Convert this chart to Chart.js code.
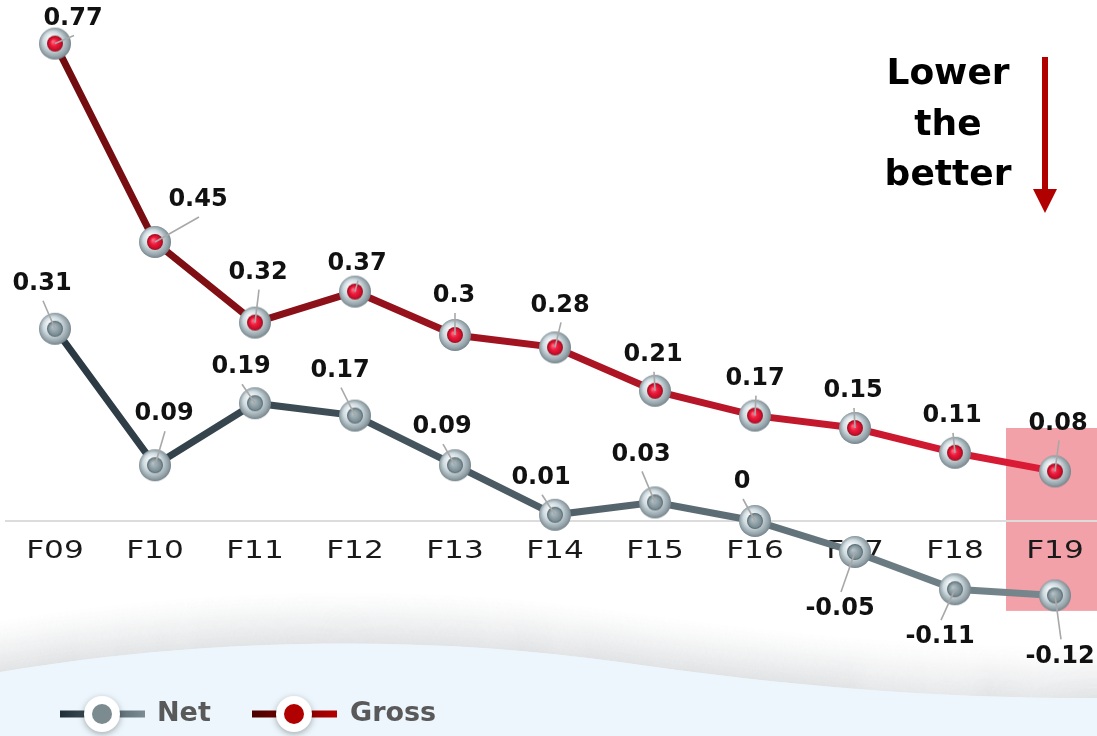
<!DOCTYPE html>
<html>
<head>
<meta charset="utf-8">
<script src="https://cdn.jsdelivr.net/npm/chart.js@4.4.1/dist/chart.umd.min.js"></script>
<style>
  html, body { margin: 0; padding: 0; overflow: hidden; background: #fff; }
  #wrap { width: 1110px; height: 736px; }
</style>
</head>
<body>
<div id="wrap"><canvas id="chart"></canvas></div>
<script>
// datos
const years = ['F09', 'F10', 'F11', 'F12', 'F13', 'F14', 'F15', 'F16', 'F17', 'F18', 'F19'];
const netValues = [0.31, 0.09, 0.19, 0.17, 0.09, 0.01, 0.03, 0, -0.05, -0.11, -0.12];
const grossValues = [0.77, 0.45, 0.32, 0.37, 0.3, 0.28, 0.21, 0.17, 0.15, 0.11, 0.08];
const seriesNames = ['Net', 'Gross'];
const noteLines = ['Lower', 'the', 'better'];

// where each value label sits relative to its point
const netLabelOffsets = [[-13,-45],[9,-51],[-14,-36],[-15,-45],[-13,-38],[-14,-37],[-14,-48],[-13,-39],[-15,57],[-15,48],[5,61]];
const grossLabelOffsets = [[18,-25],[43,-42],[3,-50],[2,-28],[-1,-39],[5,-42],[-2,-36],[0,-37],[-2,-37],[-3,-37],[3,-48]];

function sphere(inner) {
    const c = document.createElement('canvas');
    c.width = 36; c.height = 36;
    const g = c.getContext('2d');
    let rg = g.createRadialGradient(13, 12, 1, 18, 18, 17);
    rg.addColorStop(0, '#f8fbfc');
    rg.addColorStop(0.5, '#d0dce1');
    rg.addColorStop(0.82, '#95a4aa');
    rg.addColorStop(1, '#6a787f');
    g.fillStyle = rg;
    g.beginPath(); g.arc(18, 18, 16, 0, Math.PI * 2); g.fill();
    if (inner === 'red') {
        g.fillStyle = '#a01222';
        g.beginPath(); g.arc(18, 18, 8, 0, Math.PI * 2); g.fill();
        rg = g.createRadialGradient(16, 16, 0.5, 18, 18, 7);
        rg.addColorStop(0, '#ff6a80');
        rg.addColorStop(0.5, '#ec1a3c');
        rg.addColorStop(1, '#c40a26');
    } else {
        g.fillStyle = '#5f6f77';
        g.beginPath(); g.arc(18, 18, 8, 0, Math.PI * 2); g.fill();
        rg = g.createRadialGradient(16, 16, 0.5, 18, 18, 7);
        rg.addColorStop(0, '#b2c1c7');
        rg.addColorStop(1, '#75878e');
    }
    g.fillStyle = rg;
    g.beginPath(); g.arc(18, 18, 7, 0, Math.PI * 2); g.fill();
    return c;
}

function lineGradient(ctx, left, right) {
    const area = ctx.chart.chartArea;
    if (!area) return right;
    const gr = ctx.chart.ctx.createLinearGradient(area.left, 0, area.right, 0);
    gr.addColorStop(0, left);
    gr.addColorStop(1, right);
    return gr;
}

function wavePath(g, dy) {
    g.beginPath();
    g.moveTo(0, 672 + dy);
    g.bezierCurveTo(200, 638 + dy, 420, 634 + dy, 620, 662 + dy);
    g.bezierCurveTo(800, 688 + dy, 950, 699 + dy, 1110, 698 + dy);
}

const decorPlugin = {
    id: 'decor',
    beforeDraw(chart) {
        const g = chart.ctx;
        const {x, y} = chart.scales;
        g.save();
        // gray shadow band above the wave
        for (let i = 0; i < 55; i++) {
            const a = 0.2 * Math.pow(1 - i / 55, 1.4);
            g.strokeStyle = 'rgba(150,156,162,' + a.toFixed(3) + ')';
            g.lineWidth = 1.5;
            wavePath(g, -i);
            g.stroke();
        }
        wavePath(g, 0);
        g.lineTo(1110, 736);
        g.lineTo(0, 736);
        g.closePath();
        g.fillStyle = '#ecf6fc';
        g.fill();

        // highlight on the last year
        const cx = x.getPixelForValue(10);
        g.fillStyle = '#f3a1a8';
        g.fillRect(cx - 49, y.getPixelForValue(0.15), 110, y.getPixelForValue(-0.145) - y.getPixelForValue(0.15));

        // zero line
        const y0 = y.getPixelForValue(0);
        g.strokeStyle = '#dcdcdc';
        g.lineWidth = 2;
        g.beginPath(); g.moveTo(5, y0); g.lineTo(1110, y0); g.stroke();

        // year labels
        g.fillStyle = '#1a1a1a';
        g.font = '24px "DejaVu Sans"';
        g.textAlign = 'center';
        g.textBaseline = 'middle';
        years.forEach((lab, i) => {
            g.save();
            g.translate(x.getPixelForValue(i), y0 + 31);
            g.scale(1.3, 1);
            g.fillText(lab, 0, 0);
            g.restore();
        });
        g.restore();
    },
    afterDatasetsDraw(chart) {
        const g = chart.ctx;
        g.save();
        g.font = 'bold 24px "DejaVu Sans"';
        g.textAlign = 'center';
        g.textBaseline = 'middle';
        const sets = [[netValues, netLabelOffsets], [grossValues, grossLabelOffsets]];
        sets.forEach(([vals, offs], d) => {
            const meta = chart.getDatasetMeta(d);
            meta.data.forEach((pt, i) => {
                const tx = pt.x + offs[i][0];
                const ty = pt.y + offs[i][1];
                const ey = offs[i][1] < 0 ? ty + 17 : ty - 17;
                g.strokeStyle = '#a8a8a8';
                g.lineWidth = 1.6;
                g.beginPath(); g.moveTo(pt.x, pt.y); g.lineTo(tx + 1, ey); g.stroke();
                g.fillStyle = '#111';
                g.fillText(String(vals[i]), tx, ty);
            });
        });
        g.restore();
    },
    afterDraw(chart) {
        const g = chart.ctx;
        g.save();
        // note + arrow
        g.fillStyle = '#000';
        g.font = 'bold 36px "DejaVu Sans"';
        g.textAlign = 'center';
        g.textBaseline = 'middle';
        noteLines.forEach((t, i) => g.fillText(t, 948, 75 + i * 50.5));
        g.fillStyle = '#b10000';
        g.fillRect(1042, 57, 6, 135);
        g.beginPath();
        g.moveTo(1033, 189); g.lineTo(1057, 189); g.lineTo(1045, 213); g.closePath();
        g.fill();

        // legend
        const items = [
            {x: 60, left: '#1f2e37', right: '#7c8c93', dot: '#7b8b90', text: seriesNames[0], tx: 157},
            {x: 252, left: '#4a0000', right: '#b40000', dot: '#b00000', text: seriesNames[1], tx: 350}
        ];
        items.forEach(it => {
            const ly = 714;
            const gr = g.createLinearGradient(it.x, 0, it.x + 85, 0);
            gr.addColorStop(0, it.left);
            gr.addColorStop(1, it.right);
            g.fillStyle = gr;
            g.fillRect(it.x, ly - 3.5, 85, 7);
            g.save();
            g.shadowColor = 'rgba(0,0,0,0.3)';
            g.shadowBlur = 6;
            g.shadowOffsetY = 2;
            g.fillStyle = '#fff';
            g.beginPath(); g.arc(it.x + 42, ly, 18, 0, Math.PI * 2); g.fill();
            g.restore();
            g.fillStyle = it.dot;
            g.beginPath(); g.arc(it.x + 42, ly, 10, 0, Math.PI * 2); g.fill();
            g.fillStyle = '#595959';
            g.font = 'bold 27px "DejaVu Sans"';
            g.textAlign = 'left';
            g.fillText(it.text, it.tx, ly);
        });
        g.restore();
    }
};

const netSphere = sphere('gray');
const grossSphere = sphere('red');

new Chart(document.getElementById('chart'), {
    type: 'line',
    data: {
        labels: years,
        datasets: [{
            label: seriesNames[0],
            data: netValues,
            borderColor: ctx => lineGradient(ctx, '#25343d', '#7c8c93'),
            borderWidth: 7,
            pointStyle: netSphere,
            pointRadius: 16,
            tension: 0
        }, {
            label: seriesNames[1],
            data: grossValues,
            borderColor: ctx => lineGradient(ctx, '#6a0c0c', '#e31c38'),
            borderWidth: 7,
            pointStyle: grossSphere,
            pointRadius: 16,
            tension: 0
        }]
    },
    options: {
        responsive: true,
        maintainAspectRatio: false,
        animation: false,
        layout: {autoPadding: false, padding: {left: 5, right: 5, top: 25, bottom: 91}},
        plugins: {legend: {display: false}, tooltip: {enabled: false}},
        scales: {
            x: {display: false, offset: true},
            y: {display: false, min: -0.2, max: 0.8}
        }
    },
    plugins: [decorPlugin]
});
</script>
</body>
</html>
